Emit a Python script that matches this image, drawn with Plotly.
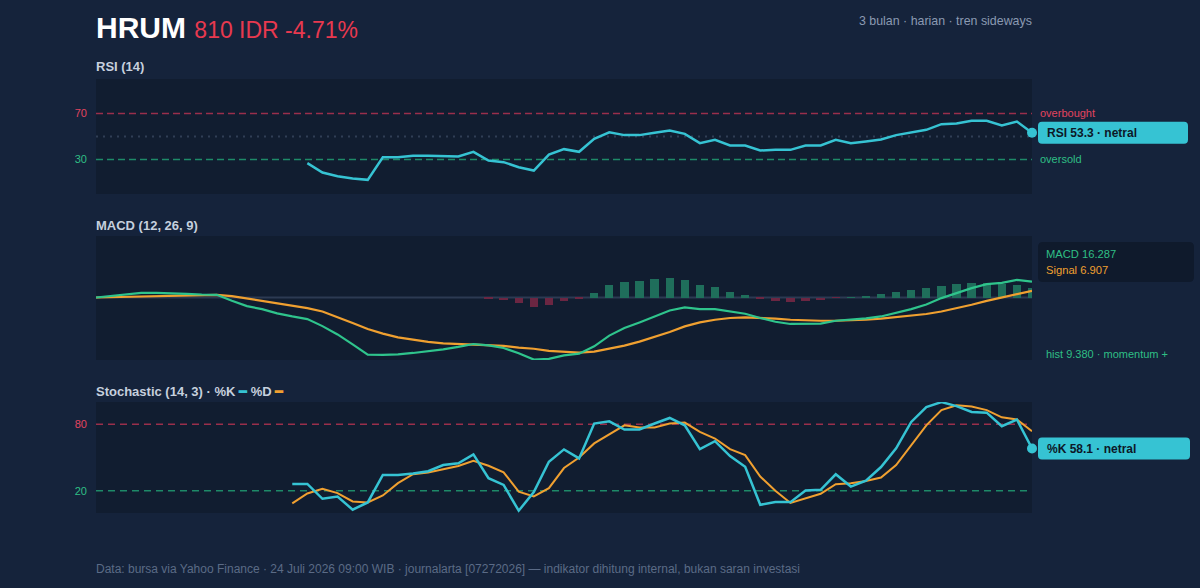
import plotly.graph_objects as go

# ---------------- data ----------------
N = 63
days = list(range(N))

rsi = [None] * 14 + [
    26.8, 18.7, 15.5, 13.5, 12.3, 32.0, 32.0, 33.2, 33.2, 33.2,
    32.6, 36.7, 29.1, 27.7, 23.3, 20.4, 34.3, 39.0, 36.7, 48.0,
    53.7, 51.2, 51.2, 53.3, 55.2, 52.3, 44.2, 47.1, 42.2, 42.2,
    37.8, 38.4, 38.4, 42.2, 42.2, 47.1, 44.2, 45.7, 47.4, 51.2,
    53.2, 55.8, 60.7, 61.3, 63.6, 63.6, 59.6, 63.0, 53.3]

macd = [
    0.0, 1.7, 3.8, 4.8, 4.8, 4.5, 3.8, 3.1, 2.8, -3.4,
    -8.8, -11.9, -16.3, -19.4, -22.1, -29.3, -37.8, -48.0, -58.5, -58.8,
    -58.2, -56.8, -55.1, -53.1, -50.6, -47.6, -49.0, -51.7, -57.1, -63.6,
    -62.8, -59.2, -57.5, -50.0, -39.0, -31.3, -25.5, -19.4, -13.3, -10.2,
    -11.9, -11.9, -14.6, -16.6, -21.0, -24.8, -27.1, -27.1, -26.8, -23.8,
    -22.8, -21.4, -19.4, -15.6, -11.9, -7.1, -0.6, 4.5, 9.6, 13.7,
    15.0, 18.1, 16.287]

signal = [
    0.0, 0.4, 0.8, 1.0, 1.7, 2.0, 2.4, 2.6, 2.6, 1.4,
    -1.0, -3.4, -5.8, -8.5, -10.9, -14.3, -20.0, -26.1, -32.3, -37.0,
    -40.8, -43.5, -45.5, -46.9, -47.6, -47.9, -48.6, -49.6, -51.3, -52.5,
    -54.6, -55.8, -56.4, -55.4, -52.7, -49.3, -45.2, -40.4, -35.3, -29.6,
    -25.5, -22.8, -21.0, -20.4, -20.7, -21.7, -22.8, -23.5, -23.8, -23.8,
    -23.5, -22.8, -21.7, -20.0, -18.7, -16.9, -14.3, -11.2, -7.4, -3.4,
    0.0, 3.8, 6.907]

hist = [None] * 26 + [
    -1.0, -3.0, -6.0, -10.0, -7.7, -3.3, -1.3, 5.1, 12.9, 15.6,
    17.0, 18.7, 19.7, 18.4, 12.9, 10.5, 5.8, 2.7, -1.3, -3.7,
    -4.7, -3.4, -2.4, -0.3, 0.5, 1.7, 3.4, 5.8, 7.5, 9.5,
    12.2, 13.9, 15.0, 14.6, 13.9, 12.9, 9.38]

stoch_k = [None] * 13 + [
    26.2, 26.2, 12.8, 14.9, 3.0, 9.5, 34.3, 34.3, 35.5, 37.6,
    43.2, 44.8, 52.8, 31.3, 25.3, 2.1, 18.8, 46.2, 57.3, 49.2,
    80.6, 82.6, 75.2, 75.2, 80.6, 85.6, 79.0, 57.6, 64.7, 51.3,
    41.7, 7.4, 9.8, 9.8, 20.3, 20.9, 34.9, 23.8, 29.2, 41.4,
    58.2, 82.0, 95.4, 99.9, 96.3, 91.0, 90.4, 78.2, 84.2, 58.1]

stoch_d = [None] * 13 + [
    8.6, 17.6, 21.8, 17.9, 10.4, 9.5, 15.8, 26.9, 34.9, 36.4,
    39.4, 42.3, 47.1, 42.6, 36.7, 19.3, 14.9, 22.4, 40.5, 50.0,
    62.7, 70.7, 79.0, 77.0, 77.0, 80.6, 81.5, 73.1, 67.1, 57.6,
    52.2, 32.8, 20.0, 9.0, 13.4, 17.3, 26.0, 26.9, 28.9, 31.9,
    43.2, 61.1, 79.0, 92.7, 97.0, 96.0, 92.7, 86.2, 84.2, 73.7]

ticker = "HRUM"
price_text = "810 IDR -4.71%"
subtitle = "3 bulan · harian · tren sideways"
footer = ("Data: bursa via Yahoo Finance · 24 Juli 2026 09:00 WIB · journalarta [07272026]"
          " — indikator dihitung internal, bukan saran investasi")

# ---------------- style ----------------
PAPER = "#15233b"
PLOT = "#111d30"
CYAN = "#36c3d3"
GREEN = "#2fc48c"
ORANGE = "#f0a030"
RED_TXT = "#e2445f"
RED_LINE = "#9a2f4b"
GREEN_LINE = "#1e8a68"
GREEN_TXT = "#2fbf85"
FONT = "Liberation Sans, Arial, Helvetica, sans-serif"

W, H = 1200, 588
L, R, T, B = 96, 1032, 79, 513


def px(xp):
    return (xp - L) / (R - L)


def py(yp):
    return (B - yp) / (B - T)


def dom(top, bottom):
    return [py(bottom), py(top)]


RSI_DOM = (79, 194)
MACD_DOM = (236, 360)
STO_DOM = (402, 513)
MACD_RANGE = [-64, 63]


def val_px(v, d, rng):
    top, bottom = d
    return bottom - (v - rng[0]) / (rng[1] - rng[0]) * (bottom - top)


def rounded_rect(x0, y0, x1, y1, r):
    X0, X1 = px(x0), px(x1)
    Y0, Y1 = py(y0), py(y1)
    rx, ry = r / (R - L), r / (B - T)
    return (f"M {X0+rx},{Y0} L {X1-rx},{Y0} Q {X1},{Y0} {X1},{Y0-ry} "
            f"L {X1},{Y1+ry} Q {X1},{Y1} {X1-rx},{Y1} "
            f"L {X0+rx},{Y1} Q {X0},{Y1} {X0},{Y1+ry} "
            f"L {X0},{Y0-ry} Q {X0},{Y0} {X0+rx},{Y0} Z")


fig = go.Figure()

# RSI
fig.add_trace(go.Scatter(x=days, y=rsi, mode="lines", line=dict(color=CYAN, width=2.5),
                         xaxis="x", yaxis="y", hoverinfo="skip"))
fig.add_trace(go.Scatter(x=[days[-1]], y=[rsi[-1]], mode="markers",
                         marker=dict(color=CYAN, size=10), cliponaxis=False,
                         xaxis="x", yaxis="y", hoverinfo="skip"))

# MACD
bar_colors = ["#1f6e5b" if (v is not None and v >= 0) else "#6b2642" for v in hist]
fig.add_trace(go.Bar(x=days, y=hist, marker=dict(color=bar_colors, line=dict(width=0)),
                     width=0.55, xaxis="x2", yaxis="y2", hoverinfo="skip"))
fig.add_trace(go.Scatter(x=days, y=signal, mode="lines", line=dict(color=ORANGE, width=2.2),
                         xaxis="x2", yaxis="y2", hoverinfo="skip"))
fig.add_trace(go.Scatter(x=days, y=macd, mode="lines", line=dict(color=GREEN, width=2.2),
                         xaxis="x2", yaxis="y2", hoverinfo="skip"))

# Stochastic
fig.add_trace(go.Scatter(x=days, y=stoch_d, mode="lines", line=dict(color=ORANGE, width=2),
                         xaxis="x3", yaxis="y3", hoverinfo="skip"))
fig.add_trace(go.Scatter(x=days, y=stoch_k, mode="lines", line=dict(color=CYAN, width=2.5),
                         xaxis="x3", yaxis="y3", hoverinfo="skip"))
fig.add_trace(go.Scatter(x=[days[-1]], y=[stoch_k[-1]], mode="markers",
                         marker=dict(color=CYAN, size=10), cliponaxis=False,
                         xaxis="x3", yaxis="y3", hoverinfo="skip"))

xcommon = dict(range=[0, N - 1], showgrid=False, zeroline=False, showticklabels=False,
               ticks="", showline=False, fixedrange=True)


def ycommon(d, rng, tv=None, tt=None):
    a = dict(domain=dom(*d), range=rng, showgrid=False, zeroline=False, showline=False,
             ticks="", fixedrange=True, tickfont=dict(size=11, family=FONT))
    if tv:
        a.update(tickvals=tv, ticktext=tt, showticklabels=True, ticklabelstandoff=8)
    else:
        a.update(showticklabels=False)
    return a


shapes = []


def hline(xa, ya, y, color, dash, width=1.5):
    shapes.append(dict(type="line", xref=xa, yref=ya, x0=0, x1=N - 1, y0=y, y1=y,
                       line=dict(color=color, width=width, dash=dash), layer="below"))


hline("x", "y", 70, RED_LINE, "7px,4px")
hline("x", "y", 30, GREEN_LINE, "7px,4px")
hline("x", "y", 50, "#303e55", "2px,5px", 2)
hline("x2", "y2", 0, "#2c3a52", "solid", 2)
hline("x3", "y3", 80, RED_LINE, "7px,5px")
hline("x3", "y3", 20, GREEN_LINE, "7px,5px")

# label boxes
rsi_y = val_px(rsi[-1], RSI_DOM, [0, 100])
sto_y = val_px(stoch_k[-1], STO_DOM, [0, 100])
shapes.append(dict(type="path", xref="paper", yref="paper",
                   path=rounded_rect(1038, rsi_y - 11, 1188, rsi_y + 11, 4),
                   fillcolor=CYAN, line=dict(width=0)))
shapes.append(dict(type="path", xref="paper", yref="paper",
                   path=rounded_rect(1038, sto_y - 11, 1190, sto_y + 11, 4),
                   fillcolor=CYAN, line=dict(width=0)))
shapes.append(dict(type="path", xref="paper", yref="paper",
                   path=rounded_rect(1038, 242, 1194, 282, 5),
                   fillcolor="#0f1a2c", line=dict(width=0)))

ann = []


def text(xp, yp, s, size, color, xanchor="left", bold=False):
    ann.append(dict(x=px(xp), y=py(yp), xref="paper", yref="paper", text=f"<b>{s}</b>" if bold else s,
                    showarrow=False, xanchor=xanchor, yanchor="middle",
                    font=dict(size=size, color=color, family=FONT)))


text(94, 27, f"<b>{ticker}</b> <span style='color:#e8394f;font-size:23px'>{price_text}</span>",
     30, "#ffffff")
text(1034, 21.5, subtitle, 12.4, "#8b9ab2", xanchor="right")
text(94, 67, "RSI (14)", 13, "#c6d0de", bold=True)
text(94, 225, "MACD (12, 26, 9)", 13, "#c6d0de", bold=True)
text(94, 391, f"Stochastic (14, 3) · %K <span style='color:{CYAN}'>━</span> "
     f"%D <span style='color:{ORANGE}'>━</span>", 13, "#c6d0de", bold=True)
text(1038, val_px(70, RSI_DOM, [0, 100]) - 1, "overbought", 11, RED_TXT)
text(1038, val_px(30, RSI_DOM, [0, 100]), "oversold", 11, GREEN_TXT)
text(1045, rsi_y, f"RSI {rsi[-1]:.1f} · netral", 12, "#0d1828", bold=True)
text(1045, sto_y, f"%K {stoch_k[-1]:.1f} · netral", 12, "#0d1828", bold=True)
text(1044, 254, f"MACD {macd[-1]:.3f}", 11.2, GREEN_TXT)
text(1044, 270, f"Signal {signal[-1]:.3f}", 11.2, ORANGE)
text(1044, 354, f"hist {hist[-1]:.3f} · momentum +", 11, GREEN_TXT)
text(94, 569, footer, 12, "#5b6b86")

fig.update_layout(
    width=W, height=H,
    margin=dict(l=L, r=W - R, t=T, b=H - B, pad=0),
    paper_bgcolor=PAPER, plot_bgcolor=PLOT,
    showlegend=False, bargap=0,
    font=dict(family=FONT, color="#c6d0de"),
    xaxis=dict(xcommon, anchor="y", domain=[0, 1]),
    xaxis2=dict(xcommon, anchor="y2", domain=[0, 1]),
    xaxis3=dict(xcommon, anchor="y3", domain=[0, 1]),
    yaxis=dict(ycommon(RSI_DOM, [0, 100], [30, 70],
                       [f"<span style='color:{GREEN_TXT}'>30</span>",
                        f"<span style='color:{RED_TXT}'>70</span>"]), anchor="x"),
    yaxis2=dict(ycommon(MACD_DOM, MACD_RANGE), anchor="x2"),
    yaxis3=dict(ycommon(STO_DOM, [0, 100], [20, 80],
                        [f"<span style='color:{GREEN_TXT}'>20</span>",
                         f"<span style='color:{RED_TXT}'>80</span>"]), anchor="x3"),
    shapes=shapes, annotations=ann,
)

fig.write_html("out.html", config={"displayModeBar": False})
